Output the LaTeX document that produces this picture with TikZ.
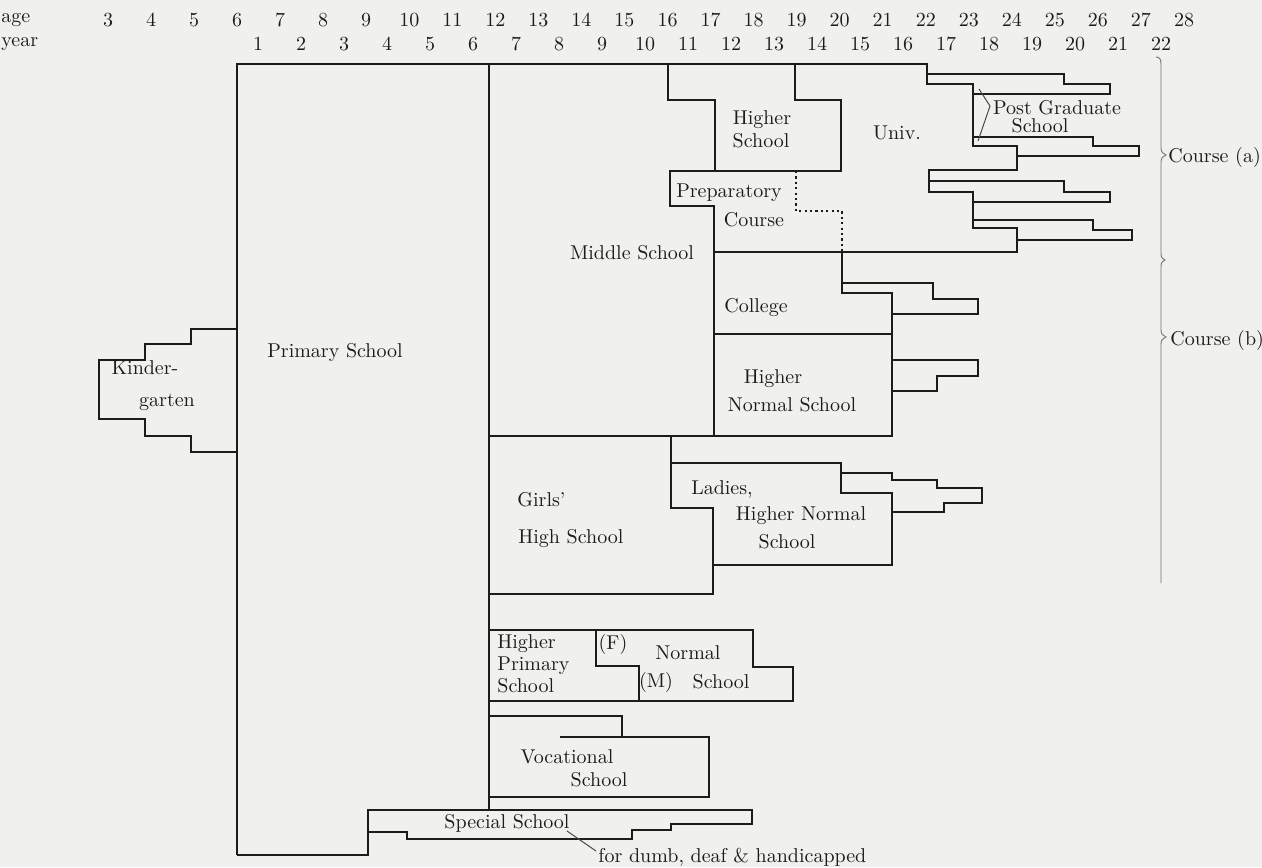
\documentclass[tikz,border=0pt]{standalone}
\definecolor{bgc}{RGB}{240,240,238}
\definecolor{ink}{RGB}{28,28,28}
\begin{document}
\begin{tikzpicture}[x=0.5pt,y=-0.5pt,
  wall/.style={line width=1.1pt, draw=ink, line join=miter},
  dotwall/.style={line width=1.1pt, draw=ink, dash pattern=on 1.1pt off 1.6pt},
  lbl/.style={inner sep=0pt, font=\fontsize{10}{11}\selectfont, text=ink},
  leader/.style={line width=0.5pt, draw=ink!80},
  bracestyle/.style={line width=0.45pt, draw=black!55}]
\fill[bgc] (0,0) rectangle (1262,867);
\useasboundingbox (0,0) rectangle (1262,867);

% header
\node[lbl, anchor=west] (agehdr) at (1,20) {age};
\node[lbl, anchor=west] (yearhdr) at (1,44) {year};
\foreach \n [evaluate=\n as \xx using 108+(\n-3)*43.04] in {3,...,28}
  \node[lbl] (age\n) at (\xx,20) {\n};
\foreach \k [evaluate=\k as \xx using 258+(\k-1)*43.0] in {1,...,22}
  \node[lbl] (yr\k) at (\xx,44) {\k};

% primary outer frame, top line and university outline
\draw[wall] (237,855) -- (237,64) -- (927,64) -- (927,84) -- (973,84) -- (973,146)
  -- (1017,146) -- (1017,170) -- (929,170) -- (929,192) -- (973,192) -- (973,228)
  -- (1017,228) -- (1017,252) -- (714,252);
% bottom and special school
\draw[wall] (237,855) -- (368,855) -- (368,810) -- (752,810) -- (752,824) -- (671,824)
  -- (671,830) -- (632,830) -- (632,839) -- (407,839) -- (407,832) -- (368,832);
% middle school left edge
\draw[wall] (489,64) -- (489,810);
% higher school / preparatory
\draw[wall] (668,64) -- (668,100) -- (715,100) -- (715,171);
\draw[wall] (795,64) -- (795,100) -- (841,100) -- (841,171) -- (670,171) -- (670,206)
  -- (714,206) -- (714,436);
\draw[dotwall] (796,171) -- (796,211) -- (842,211) -- (842,252);
% college
\draw[wall] (842,252) -- (842,293) -- (892,293) -- (892,437);
\draw[wall] (842,283) -- (933,283) -- (933,299) -- (978,299) -- (978,314) -- (892,314);
\draw[wall] (714,334) -- (892,334);
% higher normal branch
\draw[wall] (892,360) -- (978,360) -- (978,376) -- (937,376) -- (937,391) -- (892,391);
% middle school bottom
\draw[wall] (489,436) -- (892,436);
% girls' high / ladies
\draw[wall] (671,436) -- (671,508) -- (713,508) -- (713,594) -- (489,594);
\draw[wall] (671,463) -- (841,463) -- (841,493) -- (892,493) -- (892,565) -- (713,565);
\draw[wall] (841,473) -- (892,473) -- (892,480) -- (937,480) -- (937,488) -- (982,488)
  -- (982,503) -- (944,503) -- (944,512) -- (892,512);
% higher primary / normal
\draw[wall] (489,630) -- (753,630) -- (753,667) -- (793,667) -- (793,701) -- (489,701);
\draw[wall] (596,630) -- (596,666) -- (639,666) -- (639,701);
% vocational
\draw[wall] (489,716) -- (622,716) -- (622,737);
\draw[wall] (560,737) -- (709,737) -- (709,797) -- (489,797);
% kindergarten
\draw[wall] (237,329) -- (191,329) -- (191,344) -- (145,344) -- (145,360) -- (99,360)
  -- (99,419) -- (145,419) -- (145,436) -- (191,436) -- (191,452) -- (237,452);
% post graduate branches
\draw[wall] (927,74) -- (1064,74) -- (1064,84) -- (1110,84) -- (1110,94) -- (973,94);
\draw[wall] (973,137) -- (1093,137) -- (1093,146) -- (1139,146) -- (1139,156) -- (1017,156);
\draw[wall] (929,181) -- (1064,181) -- (1064,192) -- (1110,192) -- (1110,202) -- (973,202);
\draw[wall] (973,220) -- (1093,220) -- (1093,230) -- (1132,230) -- (1132,240) -- (1017,240);

% labels
\node[lbl] (kinder1) at (145,368) {Kinder-};
\node[lbl] (kinder2) at (167,402) {garten};
\node[lbl] (primary) at (335,352) {Primary School};
\node[lbl] (middle) at (632,253) {Middle School};
\node[lbl] (hs1) at (762,120) {Higher};
\node[lbl] (hs2) at (761,141) {School};
\node[lbl] (univ) at (897,133) {Univ.};
\node[lbl] (prep1) at (729,193) {Preparatory};
\node[lbl] (prep2) at (754,220) {Course};
\node[lbl] (college) at (756,308) {College};
\node[lbl] (hn1) at (773,379) {Higher};
\node[lbl] (hn2) at (792,405) {Normal School};
\node[lbl, anchor=west] (girls1) at (517,500) {Girls'};
\node[lbl, anchor=west] (girls2) at (518,539) {High School};
\node[lbl] (ladies1) at (722,489) {Ladies,};
\node[lbl] (ladies2) at (801,516) {Higher Normal};
\node[lbl] (ladies3) at (787,542) {School};
\node[lbl, anchor=west, align=left, font=\fontsize{10}{11}\selectfont] (hprim) at (497,664) {Higher\\Primary\\School};
\node[lbl] (nF) at (613,644) {(F)};
\node[lbl] (norm1) at (688,653) {Normal};
\node[lbl] (nM) at (656,682) {(M)};
\node[lbl] (norm2) at (721,682) {School};
\node[lbl] (voc1) at (567,757) {Vocational};
\node[lbl] (voc2) at (599,780) {School};
\node[lbl] (special) at (507,823) {Special School};
\node[lbl, anchor=west] (dumb) at (598,857) {for dumb, deaf \& handicapped};
\node[lbl] (pg1) at (1057,108) {Post Graduate};
\node[lbl] (pg2) at (1040,126) {School};
\node[lbl, anchor=west] (coursea) at (1168,157) {Course (a)};
\node[lbl, anchor=west] (courseb) at (1170,340) {Course (b)};

% leaders
\coordinate (spA) at (567,831);
\coordinate (spB) at (596,851);
\draw[leader] (spA) -- (spB);
\coordinate (pgU) at (979,89);
\coordinate (pgV) at (990,106);
\coordinate (pgL) at (978,141);
\draw[leader] (pgU) -- (pgV) -- (pgL);

% braces
\draw[bracestyle] (1156,57) .. controls (1160,57) and (1161,60) .. (1161,64)
  -- (1161,148) .. controls (1161,152) and (1163,154) .. (1166,155)
  .. controls (1163,156) and (1161,158) .. (1161,162)
  -- (1161,254) .. controls (1161,258) and (1163,259) .. (1165,260)
  .. controls (1163,261) and (1161,262) .. (1161,266)
  -- (1161,330) .. controls (1161,334) and (1163,336) .. (1166,337)
  .. controls (1163,338) and (1161,340) .. (1161,344)
  -- (1161,583);
\end{tikzpicture}
\end{document}
